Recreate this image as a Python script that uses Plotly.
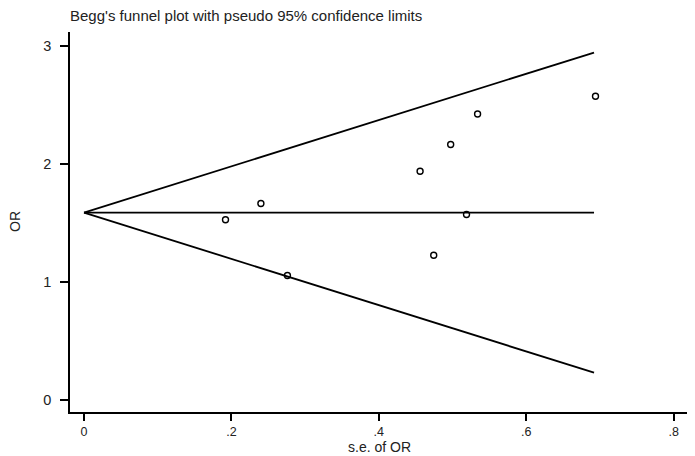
# Begg's funnel plot with pseudo 95% confidence limits

import plotly.graph_objects as go

# studies: standard error and OR
se = [0.192, 0.240, 0.276, 0.456, 0.4745, 0.4975, 0.519, 0.534, 0.694]
odds = [1.53, 1.667, 1.057, 1.94, 1.229, 2.167, 1.574, 2.426, 2.576]

# pooled estimate and pseudo 95% limits (endpoints)
limit_se = [0, 0.692]
pooled = [1.59, 1.59]
upper = [1.59, 2.946]
lower = [1.59, 0.234]

x_ticks = [0, 0.2, 0.4, 0.6, 0.8]
x_labels = ["0", ".2", ".4", ".6", ".8"]
y_ticks = [0, 1, 2, 3]

line_style = dict(color="black", width=1.8)

fig = go.Figure()
fig.add_trace(go.Scatter(x=limit_se, y=upper, mode="lines", line=line_style))
fig.add_trace(go.Scatter(x=limit_se, y=lower, mode="lines", line=line_style))
fig.add_trace(go.Scatter(x=limit_se, y=pooled, mode="lines", line=line_style))
fig.add_trace(go.Scatter(
    x=se, y=odds, mode="markers",
    marker=dict(symbol="circle-open", size=6, color="black", line=dict(width=1.4)),
))

x_tick_font = dict(family="Liberation Sans, Arial", size=12.5, color="#222")
y_tick_font = dict(family="Liberation Sans, Arial", size=14.5, color="#222")
label_font = dict(family="Liberation Sans, Arial", size=14, color="#222")

# the page body adds an 8px offset, so the figure is sized for what is left
fig.update_layout(
    width=687, height=448,
    showlegend=False,
    plot_bgcolor="white", paper_bgcolor="white",
    margin=dict(l=62, r=7, t=24, b=44),
    title=dict(
        text="Begg's funnel plot with pseudo 95% confidence limits",
        x=62 / 687, xanchor="left", y=1 - 7.5 / 448, yanchor="middle",
        font=dict(family="Liberation Sans, Arial", size=15, color="#222"),
    ),
    xaxis=dict(
        range=[-0.019, 0.8195], tickvals=x_ticks, ticktext=x_labels,
        showline=True, linecolor="black", linewidth=1.6,
        ticks="outside", ticklen=7, tickwidth=1.6, tickcolor="black",
        showgrid=False, zeroline=False, tickfont=x_tick_font, automargin=False,
    ),
    yaxis=dict(
        range=[-0.099, 3.12], tickvals=y_ticks,
        showline=True, linecolor="black", linewidth=1.6,
        ticks="outside", ticklen=8, tickwidth=1.6, tickcolor="black",
        ticklabelstandoff=6,
        showgrid=False, zeroline=False, tickfont=y_tick_font, automargin=False,
    ),
    annotations=[
        dict(text="s.e. of OR", xref="paper", yref="paper",
             x=0.5, y=-35 / 380, xanchor="center", yanchor="middle",
             showarrow=False, font=label_font),
        dict(text="OR", xref="paper", yref="paper", textangle=-90,
             x=-55 / 618, y=0.5, xanchor="center", yanchor="middle",
             showarrow=False, font=label_font),
    ],
)

fig.write_html("out.html")
